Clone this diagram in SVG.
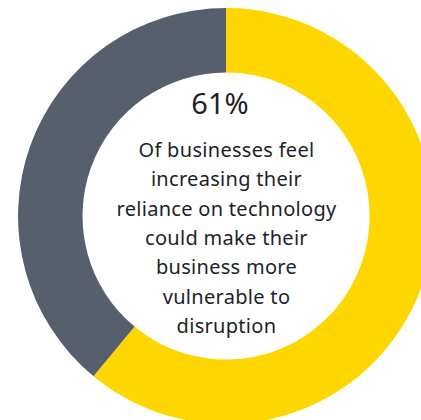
<svg xmlns="http://www.w3.org/2000/svg" width="421" height="420" viewBox="0 0 421 420">
<style>
.t{font-family:"Noto Sans","Liberation Sans",sans-serif;fill:#1c1f2a;text-anchor:middle}
.b{font-size:20px;letter-spacing:0.3px}
.p{font-size:29px}
</style>
<rect width="421" height="420" fill="#ffffff"/>
<g id="segment-yes">
<path d="M226 8 A208 208 0 1 1 93.5 376.3 L134.6 326.6 A143.5 143.5 0 1 0 226 72.5 Z" fill="#fed700"/>
</g>
<g id="segment-no">
<path d="M93.5 376.3 A208 208 0 0 1 226 8 L226 72.5 A143.5 143.5 0 0 0 134.6 326.6 Z" fill="#575f6d"/>
</g>
<g id="label">
<text class="t p" x="220" y="114">61%</text>
<text class="t b" x="226.5" y="157">Of businesses feel</text>
<text class="t b" x="226.5" y="186.3">increasing their</text>
<text class="t b" x="226.5" y="215.6">reliance on technology</text>
<text class="t b" x="226.5" y="244.9">could make their</text>
<text class="t b" x="226.5" y="274.2">business more</text>
<text class="t b" x="226.5" y="303.5">vulnerable to</text>
<text class="t b" x="226.5" y="332.8">disruption</text>
</g>
</svg>
